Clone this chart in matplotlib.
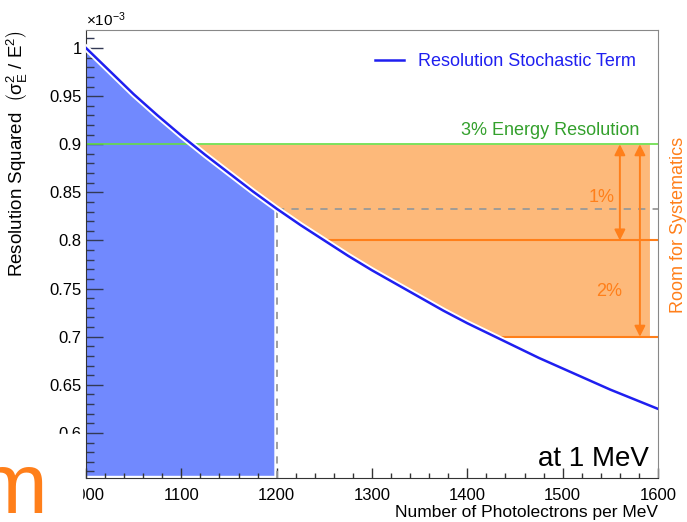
import numpy as np
import matplotlib
matplotlib.use("Agg")
import matplotlib.pyplot as plt
import matplotlib.patheffects as pe
from matplotlib.patches import Rectangle
from matplotlib.ticker import MultipleLocator, FormatStrFormatter

plt.rcParams["font.family"] = ["Liberation Sans", "DejaVu Sans"]
plt.rcParams["mathtext.fontset"] = "custom"
plt.rcParams["mathtext.rm"] = "Liberation Sans"
plt.rcParams["mathtext.it"] = "Liberation Sans:italic"

# resolution squared (x1e-3)
photoelectrons = [1000, 1025, 1050, 1075, 1100, 1125, 1150, 1175, 1200, 1225, 1250,
                  1275, 1300, 1325, 1350, 1375, 1400, 1425, 1450, 1475, 1500, 1525,
                  1550, 1575, 1600]
resolution_sq = [1.000, 0.976, 0.952, 0.930, 0.909, 0.889, 0.870, 0.851, 0.833, 0.816,
                 0.800, 0.784, 0.769, 0.755, 0.741, 0.727, 0.714, 0.702, 0.690, 0.678,
                 0.667, 0.656, 0.645, 0.635, 0.625]

target_3pct = 0.9
with_1pct = 0.8
with_2pct = 0.7
at_1200 = 0.833
npe_cut = 1200
npe_3pct = 1111
npe_1pct = 1250
npe_2pct = 1428
fill_end = 1591

BLUE = "#1f1ff0"
FILL_BLUE = "#7189fe"
FILL_ORANGE = "#fdb97a"
ORANGE = "#ff7f1a"
GREEN = "#33a02c"

fig = plt.figure(figsize=(6.87, 5.22), dpi=100)
ax = fig.add_axes([0.1252, 0.0843, 0.8326, 0.8582])

# blue region: accessible with <= 1200 p.e./MeV
blue_x = np.linspace(1000, 1197, 100)
ax.fill_between(blue_x, 0.556, np.interp(blue_x, photoelectrons, resolution_sq),
                color=FILL_BLUE, lw=0, zorder=1)

# orange region: room for systematics
orange_x = np.linspace(npe_3pct, fill_end, 300)
lower = np.maximum(np.interp(orange_x, photoelectrons, resolution_sq), with_2pct)
ax.fill_between(orange_x, lower, target_3pct, color=FILL_ORANGE, lw=0, zorder=1)

ax.axhline(target_3pct, color="#66dd44", lw=1.2, zorder=2)
ax.plot([npe_cut, 1600], [at_1200, at_1200], color="#999999", ls=(0, (4, 4)), lw=1.3, zorder=2)
ax.plot([npe_cut, npe_cut], [0.553, at_1200], color="#999999", ls=(0, (4, 4)), lw=1.3, zorder=2)
ax.plot([npe_1pct, 1600], [with_1pct, with_1pct], color=ORANGE, lw=1.5, zorder=2)
ax.plot([npe_2pct, 1600], [with_2pct, with_2pct], color=ORANGE, lw=1.5, zorder=2)

ax.plot(photoelectrons, resolution_sq, color=BLUE, lw=1.8, zorder=3,
        path_effects=[pe.Stroke(linewidth=4.5, foreground="white"), pe.Normal()],
        label="Resolution Stochastic Term")

arrow = dict(arrowstyle="<|-|>", color=ORANGE, lw=1.4, mutation_scale=16, shrinkA=0, shrinkB=0)
ax.annotate("", xy=(1560, with_1pct), xytext=(1560, target_3pct), arrowprops=arrow, zorder=4)
ax.annotate("", xy=(1581, with_2pct), xytext=(1581, target_3pct), arrowprops=arrow, zorder=4)
ax.text(1541, 0.845, "1%", color=ORANGE, fontsize=13, ha="center", va="center")
ax.text(1549, 0.7465, "2%", color=ORANGE, fontsize=13, ha="center", va="center")

ax.text(1580, 0.905, "3% Energy Resolution", color=GREEN, fontsize=13, ha="right", va="bottom")
ax.text(1590, 0.573, "at 1 MeV", color="black", fontsize=20, ha="right", va="center")
ax.text(1.035, 0.565, "Room for Systematics", color=ORANGE, fontsize=13, rotation=90,
        ha="center", va="center", transform=ax.transAxes)

leg = ax.legend(loc="upper right", frameon=False, fontsize=13, handlelength=1.6,
                bbox_to_anchor=(0.99, 0.985), labelcolor=BLUE)

ax.set_xlim(1000, 1600)
ax.set_ylim(0.5532, 1.0187)
ax.xaxis.set_major_locator(MultipleLocator(100))
ax.xaxis.set_minor_locator(MultipleLocator(20))
ax.yaxis.set_major_locator(MultipleLocator(0.05))
ax.yaxis.set_minor_locator(MultipleLocator(0.01))
ax.yaxis.set_major_formatter(FormatStrFormatter("%g"))
ax.tick_params(axis="y", which="major", direction="in", length=12, width=1, pad=3,
               labelsize=12, color="#333a55")
ax.tick_params(axis="y", which="minor", direction="in", length=6, width=1, color="#333a55")
ax.tick_params(axis="x", which="major", direction="in", length=7, width=1, pad=7,
               labelsize=12, color="#333333")
ax.tick_params(axis="x", which="minor", direction="in", length=3.5, width=1, color="#333333")
for side in ["left", "bottom"]:
    ax.spines[side].set_color("#333333")
for side in ["right", "top"]:
    ax.spines[side].set_color("#888888")

ax.set_xlabel("Number of Photolectrons per MeV", fontsize=12.5, loc="right", labelpad=2)
ax.set_ylabel(r"Resolution Squared  $\left(\mathrm{\sigma_{E}^{2}\ /\ E^{2}}\right)$",
              fontsize=13.5, loc="top")
ax.yaxis.set_label_coords(-0.098, 1.0)

fig.text(0.125, 0.962, r"$\times$10$^{-3}$", fontsize=11, ha="left", va="center")

# slide title box covering the corner
fig.add_artist(Rectangle((0, 0), 82 / 687, 88 / 522, transform=fig.transFigure,
                         color="white", zorder=10))
fig.text(47 / 687, 9 / 522, "m", color=ORANGE, fontsize=62, ha="right", va="baseline",
         zorder=11)

fig.savefig("out.png", dpi=100)
